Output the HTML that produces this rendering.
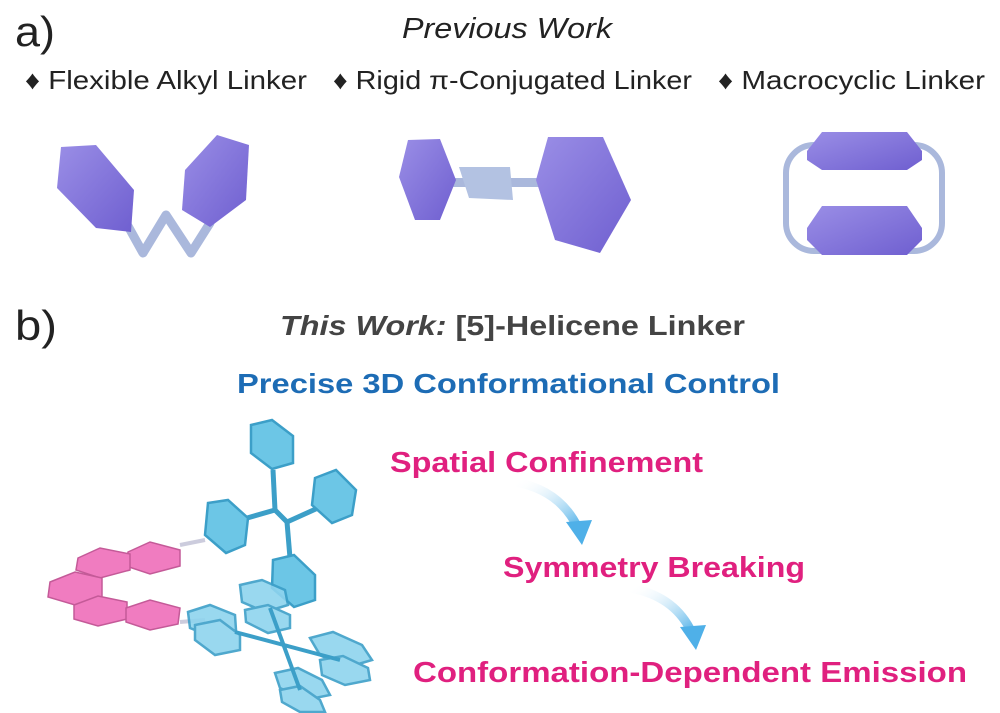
<!DOCTYPE html>
<html><head><meta charset="utf-8"><style>
html,body{margin:0;padding:0;background:#fff;}
svg{display:block;font-family:"Liberation Sans",Arial,sans-serif;}
</style></head><body>
<svg width="1000" height="713" viewBox="0 0 1000 713" xmlns="http://www.w3.org/2000/svg">
<defs>
<linearGradient id="pur" x1="0" y1="0" x2="1" y2="1"><stop offset="0" stop-color="#9a8ee6"/><stop offset="1" stop-color="#6f5fd0"/></linearGradient>
<linearGradient id="arr" x1="0" y1="0" x2="1" y2="1"><stop offset="0" stop-color="#ffffff" stop-opacity="0"/><stop offset="1" stop-color="#4fb0e8"/></linearGradient>
</defs>
<text x="15" y="46" font-size="42" fill="#222" textLength="40" lengthAdjust="spacingAndGlyphs">a)</text>
<text x="402" y="38" font-size="29" font-style="italic" fill="#222" textLength="210" lengthAdjust="spacingAndGlyphs">Previous Work</text>
<text x="25" y="89" font-size="26" fill="#222" textLength="282" lengthAdjust="spacingAndGlyphs">♦ Flexible Alkyl Linker</text>
<text x="333" y="89" font-size="26" fill="#222" textLength="359" lengthAdjust="spacingAndGlyphs">♦ Rigid π-Conjugated Linker</text>
<text x="718" y="89" font-size="26" fill="#222" textLength="267" lengthAdjust="spacingAndGlyphs">♦ Macrocyclic Linker</text>
<text x="15" y="340" font-size="42" fill="#222" textLength="42" lengthAdjust="spacingAndGlyphs">b)</text>
<text x="280" y="335" font-size="28" font-weight="bold" fill="#444" textLength="465" lengthAdjust="spacingAndGlyphs"><tspan font-style="italic">This Work:</tspan> [5]-Helicene Linker</text>
<text x="237" y="393" font-size="28" font-weight="bold" fill="#1d6cb5" textLength="543" lengthAdjust="spacingAndGlyphs">Precise 3D Conformational Control</text>
<text x="390" y="472" font-size="29" font-weight="bold" fill="#e0207f" textLength="313" lengthAdjust="spacingAndGlyphs">Spatial Confinement</text>
<text x="503" y="577" font-size="29" font-weight="bold" fill="#e0207f" textLength="302" lengthAdjust="spacingAndGlyphs">Symmetry Breaking</text>
<text x="413" y="682" font-size="29" font-weight="bold" fill="#e0207f" textLength="554" lengthAdjust="spacingAndGlyphs">Conformation-Dependent Emission</text>
<path d="M515 482 Q560 490 578 528" stroke="url(#arr)" stroke-width="9" fill="none"/>
<polygon points="566,522 592,520 582,545" fill="#4fb0e8"/>
<path d="M630 588 Q675 596 692 633" stroke="url(#arr)" stroke-width="9" fill="none"/>
<polygon points="680,627 706,625 696,650" fill="#4fb0e8"/>
<!-- fig 1 -->
<polyline points="128,226 143,253 166,215 191,253 210,223" stroke="#aab8dc" stroke-width="9" fill="none" stroke-linejoin="round" stroke-linecap="round"/>
<polygon points="61,147 96,145 134,190 131,232 96,228 57,188" fill="url(#pur)"/>
<polygon points="185,170 217,135 249,145 246,200 210,227 182,210" fill="url(#pur)"/>
<!-- fig 2 -->
<rect x="450" y="178" width="95" height="9" rx="4" fill="#aab8dc"/>
<polygon points="459,167 510,167 513,200 469,198" fill="#b3c2e2"/>
<polygon points="408,140 440,139 456,180 440,220 415,220 399,177" fill="url(#pur)"/>
<polygon points="548,137 603,137 631,200 600,253 555,240 536,180" fill="url(#pur)"/>
<!-- fig 3 -->
<rect x="786" y="145" width="156" height="106" rx="28" stroke="#aab8dc" stroke-width="6" fill="none"/>
<polygon points="807,151 822,132 907,132 922,151 922,160 907,170 822,170 807,160" fill="url(#pur)"/>
<polygon points="807,228 822,206 907,206 922,228 922,240 907,255 822,255 807,240" fill="url(#pur)"/>
<!-- molecule -->
<g stroke="#3c9fc8" stroke-width="2.5" fill="#6cc6e6">
<line x1="240" y1="520" x2="275" y2="510" stroke-width="5"/>
<line x1="275" y1="510" x2="287" y2="522" stroke-width="5"/>
<line x1="275" y1="510" x2="273" y2="470" stroke-width="5"/>
<line x1="287" y1="522" x2="318" y2="508" stroke-width="5"/>
<line x1="287" y1="522" x2="290" y2="558" stroke-width="5"/>
<polygon points="251,425 272,420 293,436 293,463 272,469 251,453"/>
<polygon points="315,478 336,470 356,490 352,515 332,523 312,505"/>
<polygon points="208,503 228,500 248,518 245,545 226,553 205,535"/>
<polygon points="273,560 294,555 315,575 315,600 294,607 272,588"/>
<line x1="180" y1="545" x2="205" y2="540" stroke="#ccd" stroke-width="4"/>
<line x1="180" y1="622" x2="205" y2="620" stroke="#ccd" stroke-width="4"/>
<g fill="#8fd4ee" opacity="0.9">
<polygon points="188,612 210,605 235,615 236,630 215,638 190,628"/>
<polygon points="240,585 262,580 285,590 288,605 265,612 242,602"/>
<polygon points="245,610 268,605 290,615 290,628 268,633 246,622"/>
<polygon points="310,638 333,632 362,645 372,660 345,668 320,655"/>
<polygon points="320,660 343,656 368,668 370,680 345,685 322,675"/>
<polygon points="275,673 298,668 322,680 330,695 305,700 280,688"/>
<polygon points="280,690 300,686 320,700 325,712 300,712 282,702"/>
<polygon points="195,625 220,620 240,635 240,650 215,655 195,640"/>
</g>
<line x1="235" y1="632" x2="340" y2="660" stroke-width="4"/>
<line x1="270" y1="608" x2="300" y2="690" stroke-width="4"/>
</g>
<g fill="#f07cc0" stroke="#c45a98" stroke-width="1.5">
<polygon points="128,552 150,542 180,550 180,566 150,574 126,566"/>
<polygon points="78,558 100,548 130,554 130,570 100,578 76,570"/>
<polygon points="50,582 75,572 102,578 102,597 75,605 48,597"/>
<polygon points="74,605 98,596 127,602 127,619 98,626 74,619"/>
<polygon points="126,608 150,600 180,608 178,624 150,630 126,622"/>
</g>
</svg>
</body></html>
